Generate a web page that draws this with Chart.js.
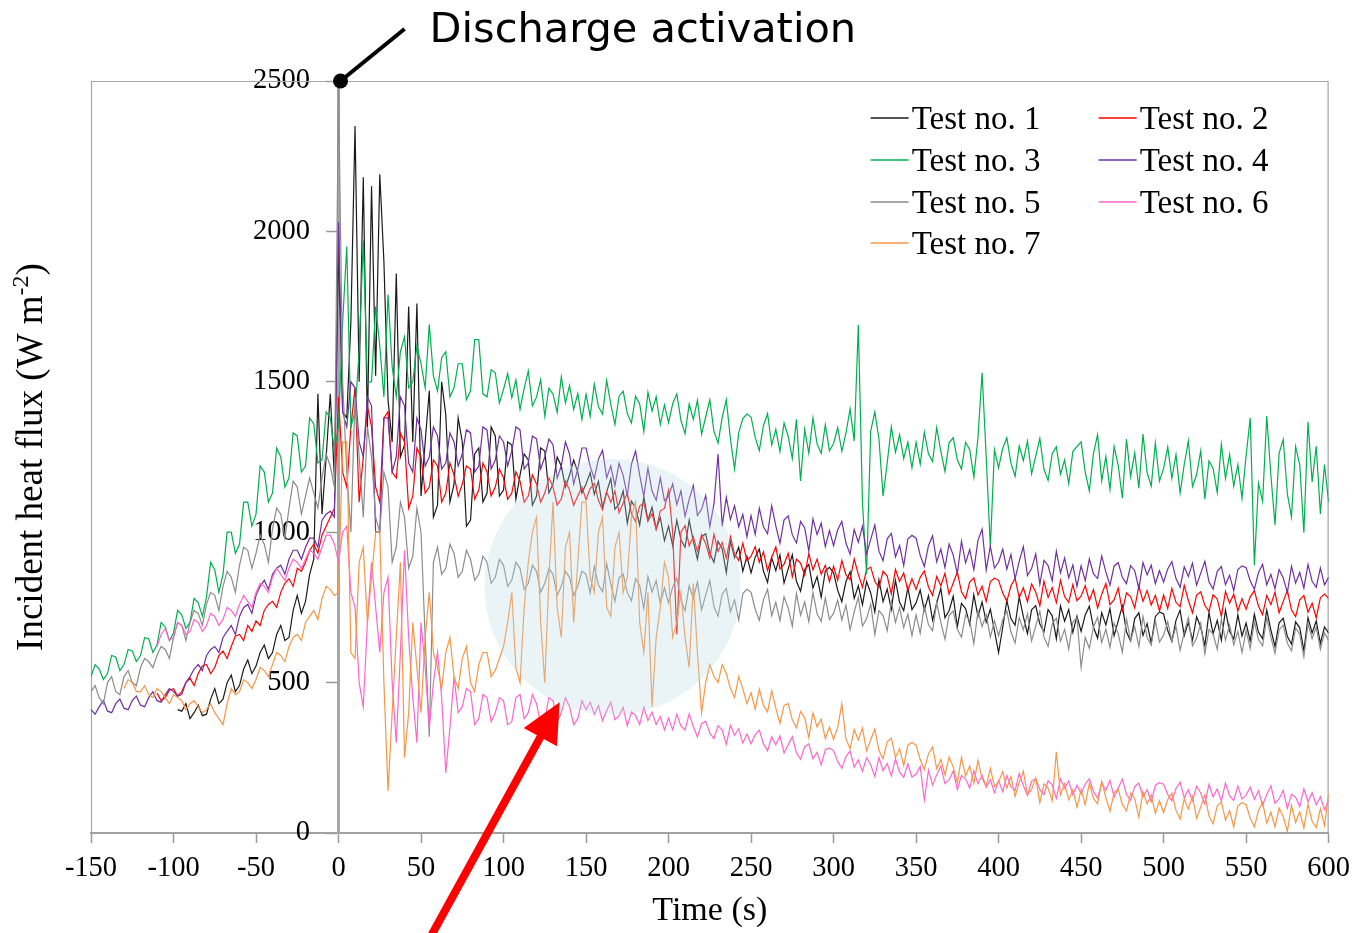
<!DOCTYPE html>
<html><head><meta charset="utf-8">
<script src="https://cdn.jsdelivr.net/npm/chart.js@4"></script>
<style>html,body{margin:0;padding:0;background:#fff;}#wrap{width:1358px;height:933px;}</style>
</head><body><div id="wrap"><canvas id="c" width="1358" height="933"></canvas></div>
<script>
const times = [
-150,-147.5,-145,-142.5,-140,-137.5,-135,-132.5,-130,-127.5,-125,-122.5,-120,-117.5,-115,-112.5,-110,-107.5,-105,-102.5,
-100,-97.5,-95,-92.5,-90,-87.5,-85,-82.5,-80,-77.5,-75,-72.5,-70,-67.5,-65,-62.5,-60,-57.5,-55,-52.5,
-50,-47.5,-45,-42.5,-40,-37.5,-35,-32.5,-30,-27.5,-25,-22.5,-20,-17.5,-15,-12.5,-10,-7.5,-5,-2.5,
0,2.5,5,7.5,10,12.5,15,17.5,20,22.5,25,27.5,30,32.5,35,37.5,40,42.5,45,47.5,
50,52.5,55,57.5,60,62.5,65,67.5,70,72.5,75,77.5,80,82.5,85,87.5,90,92.5,95,97.5,
100,102.5,105,107.5,110,112.5,115,117.5,120,122.5,125,127.5,130,132.5,135,137.5,140,142.5,145,147.5,
150,152.5,155,157.5,160,162.5,165,167.5,170,172.5,175,177.5,180,182.5,185,187.5,190,192.5,195,197.5,
200,202.5,205,207.5,210,212.5,215,217.5,220,222.5,225,227.5,230,232.5,235,237.5,240,242.5,245,247.5,
250,252.5,255,257.5,260,262.5,265,267.5,270,272.5,275,277.5,280,282.5,285,287.5,290,292.5,295,297.5,
300,302.5,305,307.5,310,312.5,315,317.5,320,322.5,325,327.5,330,332.5,335,337.5,340,342.5,345,347.5,
350,352.5,355,357.5,360,362.5,365,367.5,370,372.5,375,377.5,380,382.5,385,387.5,390,392.5,395,397.5,
400,402.5,405,407.5,410,412.5,415,417.5,420,422.5,425,427.5,430,432.5,435,437.5,440,442.5,445,447.5,
450,452.5,455,457.5,460,462.5,465,467.5,470,472.5,475,477.5,480,482.5,485,487.5,490,492.5,495,497.5,
500,502.5,505,507.5,510,512.5,515,517.5,520,522.5,525,527.5,530,532.5,535,537.5,540,542.5,545,547.5,
550,552.5,555,557.5,560,562.5,565,567.5,570,572.5,575,577.5,580,582.5,585,587.5,590,592.5,595,597.5,
600];

const test1 = [
null,null,null,null,null,null,null,null,null,null,null,null,null,null,null,null,null,null,null,null,
null,410,405,430,380,400,425,390,395,445,480,430,445,500,525,470,490,545,575,530,
555,600,625,580,600,660,690,640,650,740,790,730,770,860,910,1460,1060,1250,1460,1180,
1950,1400,1380,1700,2350,1500,2180,1350,2150,1520,2190,1900,1440,1300,1860,1250,1290,1750,1300,1760,
1120,1300,1470,1050,1090,1500,1390,1100,1160,1380,1300,1020,1040,1260,1280,1100,1130,1350,1320,1120,
1140,1300,1290,1110,1190,1260,1240,1090,1120,1280,1270,1130,1160,1250,1220,1150,1190,1240,1200,1130,
1160,1198,1126,1169,1082,1135,1178,1076,1094,1137,1030,1103,1081,1024,1117,1040,1083,1011,1049,972,
1020,955,1040,975,950,1040,970,910,985,995,930,900,970,945,865,970,915,950,870,920,
865,917,944,871,833,915,872,924,831,878,925,837,804,876,893,815,852,784,871,883,
865,807,769,836,868,780,822,759,836,798,735,842,769,811,743,840,767,739,816,743,
765,808,741,789,707,765,813,716,739,787,685,763,746,694,792,720,768,701,744,672,
600,684,773,712,691,785,719,663,742,756,695,669,743,722,646,755,704,743,667,721,
670,725,754,684,648,732,692,746,656,705,755,669,638,713,732,657,696,631,720,735,
728,673,637,707,741,656,700,640,719,684,623,733,662,707,641,741,670,645,725,655,
698,638,727,667,646,741,675,620,699,714,653,628,702,682,606,716,665,705,630,685,
665];

const test2 = [
null,null,null,null,null,null,null,null,null,null,null,null,null,null,null,null,465,440,450,475,
480,455,470,500,515,490,530,555,560,530,550,590,605,580,620,655,660,640,690,670,
705,690,740,760,770,750,800,830,845,820,880,870,900,940,960,930,990,1020,1050,1080,
1450,1200,1150,1350,1480,1100,1250,1420,1350,1150,1100,1380,1400,1200,1180,1330,1300,1080,1120,1280,
1250,1130,1150,1240,1220,1100,1130,1230,1190,1120,1160,1220,1210,1110,1140,1230,1200,1120,1150,1210,
1180,1110,1130,1200,1170,1100,1120,1190,1160,1100,1130,1180,1150,1090,1110,1170,1140,1090,1120,1150,
1108,1145,1162,1106,1074,1134,1099,1137,1064,1098,1130,1062,1035,1087,1097,1037,1062,1009,1071,1079,
1140,1000,660,1000,1022,955,985,936,992,962,914,993,936,966,914,985,928,906,963,906,
920,952,900,935,873,917,951,878,894,930,852,910,897,857,929,875,910,860,890,836,
887,840,906,858,842,911,860,817,875,884,837,816,870,854,795,876,836,864,806,845,
810,850,871,818,790,853,822,863,794,831,867,802,779,834,848,791,820,770,836,847,
840,798,770,822,847,783,815,769,828,801,755,837,783,816,766,840,786,767,826,772,
788,822,772,809,748,794,830,759,776,814,738,798,786,748,822,770,806,758,790,738,
791,746,813,767,752,823,773,732,791,802,756,737,792,778,720,803,764,794,738,779,
744,785,806,754,726,790,759,801,732,770,806,742,719,775,790,734,764,715,782,794,
780];

const test3 = [
520,560,545,510,530,590,585,540,560,610,605,570,590,650,645,600,625,700,685,640,
665,740,725,680,700,780,765,720,785,900,875,800,860,1000,1000,930,960,1100,1100,1020,
1060,1220,1200,1100,1130,1280,1250,1150,1180,1330,1320,1200,1220,1380,1360,1230,1240,1400,1380,1270,
1350,1700,1950,1350,1400,1600,1970,1500,1500,1750,1620,1450,1790,1550,1450,1600,1650,1480,1500,1620,
1560,1480,1690,1520,1470,1580,1600,1450,1480,1560,1560,1440,1470,1640,1640,1460,1450,1540,1530,1430,
1475,1527,1447,1506,1408,1478,1536,1420,1449,1507,1385,1479,1459,1398,1516,1430,1488,1408,1461,1375,
1459,1385,1492,1418,1393,1505,1425,1358,1452,1469,1395,1363,1452,1426,1335,1465,1403,1450,1358,1423,
1364,1427,1460,1372,1327,1426,1375,1438,1326,1383,1440,1335,1296,1382,1440,1310,1210,1330,1378,1393,
1383,1315,1271,1354,1394,1290,1342,1268,1363,1319,1245,1375,1170,1342,1262,1380,1294,1262,1357,1271,
1295,1348,1269,1329,1410,1303,1690,1100,860,1336,1400,1310,1120,1231,1350,1265,1324,1245,1299,1214,
1299,1226,1333,1260,1235,1348,1269,1202,1297,1314,1241,1210,1299,1274,1183,1314,1530,1250,950,1274,
1214,1279,1314,1229,1186,1287,1238,1303,1194,1253,1312,1209,1172,1261,1284,1193,1240,1161,1268,1285,
1300,1200,1137,1262,1324,1171,1251,1142,1285,1222,1113,1310,1184,1264,1146,1326,1199,1153,1296,1170,
1212,1283,1179,1258,1130,1225,1304,1152,1191,1271,1110,1237,1212,1132,1292,1179,1258,1153,1225,1113,
1255,1380,890,1163,1102,1386,1190,1024,1263,1308,1127,1051,1285,1224,998,1367,1167,1286,1061,1225,
1100];

const test4 = [
410,395,420,440,405,400,430,445,415,410,440,455,425,420,450,470,440,435,460,480,
470,455,460,500,520,545,560,540,590,610,620,600,650,670,690,660,720,750,760,730,
790,820,840,810,860,880,890,860,910,940,940,910,950,980,980,950,1040,1060,1070,1050,
2030,1400,1350,1500,1480,1300,1250,1450,1420,1000,1000,1380,1380,1200,1250,1450,1420,1230,1200,1380,
1340,1220,1250,1350,1320,1210,1230,1330,1300,1220,1260,1340,1330,1200,1220,1350,1340,1210,1240,1320,
1300,1220,1270,1350,1340,1210,1230,1320,1310,1210,1250,1310,1290,1180,1220,1300,1260,1160,1210,1280,
1280,1219,1178,1243,1272,1181,1220,1154,1229,1188,1122,1226,1270,1190,1119,1213,1137,1106,1181,1105,
1120,1161,1092,1137,1053,1109,1155,1056,1076,1122,1018,1094,1260,1020,1116,1042,1088,1018,1059,985,
1055,993,1080,1018,995,1088,1021,963,1041,1054,991,964,1036,1014,937,1044,992,1030,952,1005,
955,1008,1036,964,927,1009,967,1020,928,976,1024,937,905,978,996,918,956,889,977,990,
980,923,886,955,988,901,944,882,961,924,862,970,898,942,875,973,1010,874,953,881,
900,944,877,926,845,903,952,856,879,928,827,906,889,838,937,865,914,848,891,820,
888,839,911,862,846,921,868,824,887,899,850,829,889,872,812,899,858,890,829,872,
834,878,902,846,817,885,853,897,824,864,903,835,811,870,886,826,857,805,876,888,
882,838,810,866,893,825,860,812,876,848,799,887,831,866,814,893,837,817,881,825,
850];

const test5 = [
470,490,450,430,500,520,470,460,520,540,500,490,550,580,570,550,590,620,610,580,
650,700,690,640,700,740,730,690,760,800,790,740,820,870,850,800,890,950,940,880,
930,990,960,900,1010,1080,1060,980,1080,1170,1150,1060,1120,1180,1130,1080,1180,1260,1220,1150,
2480,1500,1200,1000,1450,1250,1050,1350,1250,1050,1000,1200,1150,900,950,1100,1050,880,920,1080,
1000,650,320,900,950,860,880,960,930,850,870,940,910,840,860,920,900,830,850,910,
890,820,840,900,880,810,830,890,870,800,830,880,860,790,820,870,850,790,820,870,
860,798,886,824,802,895,827,770,848,861,799,772,845,823,746,853,801,839,762,815,
765,818,847,775,739,822,780,834,742,791,839,753,721,794,813,736,775,708,796,810,
800,744,707,776,810,723,767,706,785,748,687,796,724,768,702,800,729,703,781,710,
730,774,708,757,676,735,784,688,712,761,660,739,723,672,771,700,749,683,727,656,
725,664,753,693,672,766,700,644,724,738,677,651,725,705,629,738,687,726,651,705,
655,709,738,668,632,716,675,729,639,688,737,651,620,695,714,638,677,611,701,715,
550,650,614,684,718,633,678,617,697,662,601,711,641,686,620,720,650,625,705,635,
658,703,638,687,607,667,717,622,647,697,596,676,661,611,711,641,691,626,670,600,
673,613,703,643,622,717,652,597,676,691,631,606,681,661,586,696,646,685,610,665,
640];

const test6 = [
null,null,null,null,null,null,null,null,null,null,null,null,null,null,null,null,620,660,680,640,
650,700,690,660,670,710,700,670,690,730,720,690,710,750,740,720,760,790,770,750,
800,830,820,800,850,880,860,840,880,910,900,880,910,940,930,910,950,990,990,960,
900,1000,1020,800,750,500,420,700,900,750,600,800,850,500,300,600,940,650,450,300,
700,550,350,500,600,450,200,350,520,400,420,480,470,360,380,460,450,370,400,450,
440,360,370,450,460,380,400,460,430,360,380,450,440,370,400,450,420,360,380,440,
410,435,394,423,373,407,435,376,390,418,356,402,391,360,418,374,402,361,387,343,
382,343,395,356,342,396,354,319,364,371,332,314,357,342,295,358,325,347,299,329,
297,327,342,297,273,320,293,323,266,293,320,266,245,287,296,247,268,226,277,283,
274,238,215,254,273,219,243,205,250,227,188,251,207,231,190,247,202,185,230,186,
195,221,110,209,159,194,222,164,177,206,144,191,180,149,207,164,192,152,177,134,
174,137,191,154,142,198,158,125,172,181,144,128,173,160,115,180,149,173,127,159,
130,163,180,138,116,167,142,175,120,150,179,128,109,154,166,120,144,104,158,167,
162,128,107,148,169,117,144,107,155,133,97,162,120,146,107,166,124,108,156,113,
126,152,112,141,93,128,157,99,113,142,82,129,119,88,147,104,134,94,120,77,
110];

const test7 = [
null,null,null,null,null,null,null,null,480,510,500,470,470,490,460,450,480,470,450,430,
460,450,440,410,430,440,420,400,410,430,400,380,360,430,480,460,470,510,500,480,
510,550,540,520,560,600,590,570,620,650,660,640,700,720,740,710,780,820,810,790,
800,1300,1300,600,580,900,950,700,850,1000,1000,500,140,400,650,900,250,400,700,550,
400,650,800,600,550,480,600,650,520,480,580,620,500,470,560,600,600,520,540,580,
620,700,800,550,500,750,900,1000,1050,700,500,850,1100,750,650,950,1000,700,900,1100,
1100,850,800,1000,1050,750,720,950,1000,800,850,1050,1100,700,600,800,420,650,750,900,
850,650,700,800,650,550,830,600,400,500,560,520,500,560,530,480,450,520,480,430,
466,412,478,425,403,473,415,365,424,430,376,350,404,383,317,399,353,379,314,352,
311,351,430,312,280,344,309,349,273,310,346,274,247,303,315,251,280,224,292,301,
292,244,211,263,286,214,245,193,252,220,167,251,190,222,165,241,180,156,215,155,
170,204,150,188,122,168,205,127,145,183,101,163,149,107,270,127,164,110,144,86,
144,94,165,115,97,172,118,72,134,145,95,73,132,114,52,138,97,127,65,107,
68,111,133,76,46,113,80,122,49,87,126,57,31,90,104,43,74,20,91,101,
94,49,20,75,102,33,69,20,83,54,5,92,35,70,17,96,39,18,81,25,
130];

const seriesNames = ['Test no. 1','Test no. 2','Test no. 3','Test no. 4','Test no. 5','Test no. 6','Test no. 7'];
const seriesColors = ['#1a1a1a','#ff0000','#00b050','#7030a0','#8c8c8c','#ff66cc','#f79646'];
const xTicks = [-150,-100,-50,0,50,100,150,200,250,300,350,400,450,500,550,600];
const yTicks = [0,500,1000,1500,2000,2500];
const xTitle = 'Time (s)';
const yTitleMain = 'Incident heat flux (W m';
const yTitleSup = '-2';
const yTitleEnd = ')';
const annotationText = 'Discharge activation';

const SERIF = '"Liberation Serif", "Times New Roman", serif';
const SANS = '"DejaVu Sans", sans-serif';

const seriesValues = [test1,test2,test3,test4,test5,test6,test7];
const datasets = seriesValues.map((vals, i) => ({
  label: seriesNames[i],
  data: times.map((t, k) => ({x: t, y: vals[k] === undefined ? null : vals[k]})),
  borderColor: seriesColors[i],
  backgroundColor: seriesColors[i],
  borderWidth: 1.2,
  pointRadius: 0,
  tension: 0,
  fill: false,
  spanGaps: false,
  order: seriesValues.length - i
}));

const framePlugin = {
  id: 'frame',
  beforeDatasetsDraw(chart) {
    const {ctx, chartArea: a} = chart;
    ctx.save();
    ctx.strokeStyle = '#a6a6a6';
    ctx.lineWidth = 1.2;
    ctx.beginPath();
    ctx.moveTo(a.left + 0.5, a.bottom);
    ctx.lineTo(a.left + 0.5, a.top + 0.5);
    ctx.lineTo(a.right - 0.5, a.top + 0.5);
    ctx.lineTo(a.right - 0.5, a.bottom);
    ctx.stroke();
    ctx.restore();
  }
};

const overlayPlugin = {
  id: 'overlay',
  afterDatasetsDraw(chart) {
    const {ctx, scales: {x, y}} = chart;
    ctx.save();
    const cx = x.getPixelForValue(166), cy = y.getPixelForValue(818);
    ctx.fillStyle = 'rgba(185,218,228,0.30)';
    ctx.beginPath();
    ctx.arc(cx, cy, 128, 0, Math.PI * 2);
    ctx.fill();
    const tx = x.getPixelForValue(134), ty = y.getPixelForValue(435);
    const bx = tx - 132, by = ty + 240;
    const dx = tx - bx, dy = ty - by, len = Math.hypot(dx, dy);
    const ux = dx / len, uy = dy / len, px = -uy, py = ux;
    const headL = 40, headW = 19;
    ctx.strokeStyle = '#ff0000';
    ctx.lineWidth = 8;
    ctx.beginPath();
    ctx.moveTo(bx, by);
    ctx.lineTo(tx - ux * (headL - 4), ty - uy * (headL - 4));
    ctx.stroke();
    ctx.fillStyle = '#ff0000';
    ctx.beginPath();
    ctx.moveTo(tx, ty);
    ctx.lineTo(tx - ux * headL + px * headW, ty - uy * headL + py * headW);
    ctx.lineTo(tx - ux * headL - px * headW, ty - uy * headL - py * headW);
    ctx.closePath();
    ctx.fill();
    ctx.restore();
  },
  afterDraw(chart) {
    const {ctx, chartArea: a, scales: {x, y}} = chart;
    ctx.save();
    const dx0 = x.getPixelForValue(0) + 2, dy0 = y.getPixelForValue(2500);
    ctx.strokeStyle = '#000';
    ctx.lineWidth = 4;
    ctx.beginPath();
    ctx.moveTo(dx0, dy0);
    ctx.lineTo(dx0 + 64, dy0 - 52);
    ctx.stroke();
    ctx.fillStyle = '#000';
    ctx.beginPath();
    ctx.arc(dx0, dy0, 7.5, 0, Math.PI * 2);
    ctx.fill();
    ctx.font = '41.5px ' + SANS;
    ctx.textAlign = 'left';
    ctx.textBaseline = 'alphabetic';
    ctx.fillText(annotationText, dx0 + 89, dy0 - 39);

    ctx.font = '33px ' + SERIF;
    ctx.lineWidth = 1.6;
    const colX = [a.right - 458, a.right - 230];
    const rowY = [37, 79, 121, 162];
    seriesNames.forEach((name, i) => {
      const lx = colX[i % 2], ly = a.top + rowY[Math.floor(i / 2)];
      ctx.strokeStyle = seriesColors[i];
      ctx.beginPath();
      ctx.moveTo(lx, ly);
      ctx.lineTo(lx + 38, ly);
      ctx.stroke();
      ctx.fillStyle = '#000';
      ctx.fillText(name, lx + 41, ly + 11);
    });

    ctx.translate(32, (a.top + a.bottom) / 2);
    ctx.rotate(-Math.PI / 2);
    ctx.fillStyle = '#000';
    ctx.textBaseline = 'middle';
    const f1 = '37px ' + SERIF, f2 = '24px ' + SERIF;
    ctx.font = f1; const w1 = ctx.measureText(yTitleMain).width; const w3 = ctx.measureText(yTitleEnd).width;
    ctx.font = f2; const w2 = ctx.measureText(yTitleSup).width;
    let sx = -(w1 + w2 + w3) / 2;
    ctx.font = f1; ctx.fillText(yTitleMain, sx, 0); sx += w1;
    ctx.font = f2; ctx.fillText(yTitleSup, sx, -10); sx += w2;
    ctx.font = f1; ctx.fillText(yTitleEnd, sx, 0);
    ctx.restore();
  }
};

new Chart(document.getElementById('c'), {
  type: 'line',
  data: { datasets },
  options: {
    responsive: false,
    devicePixelRatio: 1,
    animation: false,
    events: [],
    layout: { padding: { top: 81, left: 91, right: 28, bottom: 0 } },
    plugins: { legend: { display: false }, tooltip: { enabled: false } },
    scales: {
      x: {
        type: 'linear', position: 'bottom', min: -150, max: 600,
        afterBuildTicks: s => { s.ticks = xTicks.map(v => ({ value: v })); },
        afterFit: s => { s.height = 100; },
        ticks: { font: { family: SERIF, size: 28.5 }, color: '#000', padding: 8, maxRotation: 0, autoSkip: false, callback: v => String(v) },
        grid: { drawOnChartArea: false, drawTicks: true, tickLength: 10, tickColor: '#999', tickWidth: 1.5 },
        border: { display: true, color: '#a0a0a0', width: 2 },
        title: { display: true, text: xTitle, font: { family: SERIF, size: 34 }, color: '#000', padding: { top: 0, bottom: 2 } }
      },
      y: {
        type: 'linear', position: { x: 0 }, min: 0, max: 2500,
        afterBuildTicks: s => { s.ticks = yTicks.map(v => ({ value: v })); },
        ticks: { font: { family: SERIF, size: 28.5 }, color: '#000', padding: 15, callback: v => String(v) + '\u2002\u2002' },
        grid: { drawOnChartArea: false, drawTicks: true, tickLength: 11, tickColor: '#999', tickWidth: 1.5 },
        border: { display: true, color: '#a6a6a6', width: 3 }
      }
    }
  },
  plugins: [framePlugin, overlayPlugin]
});
</script>
</body></html>
